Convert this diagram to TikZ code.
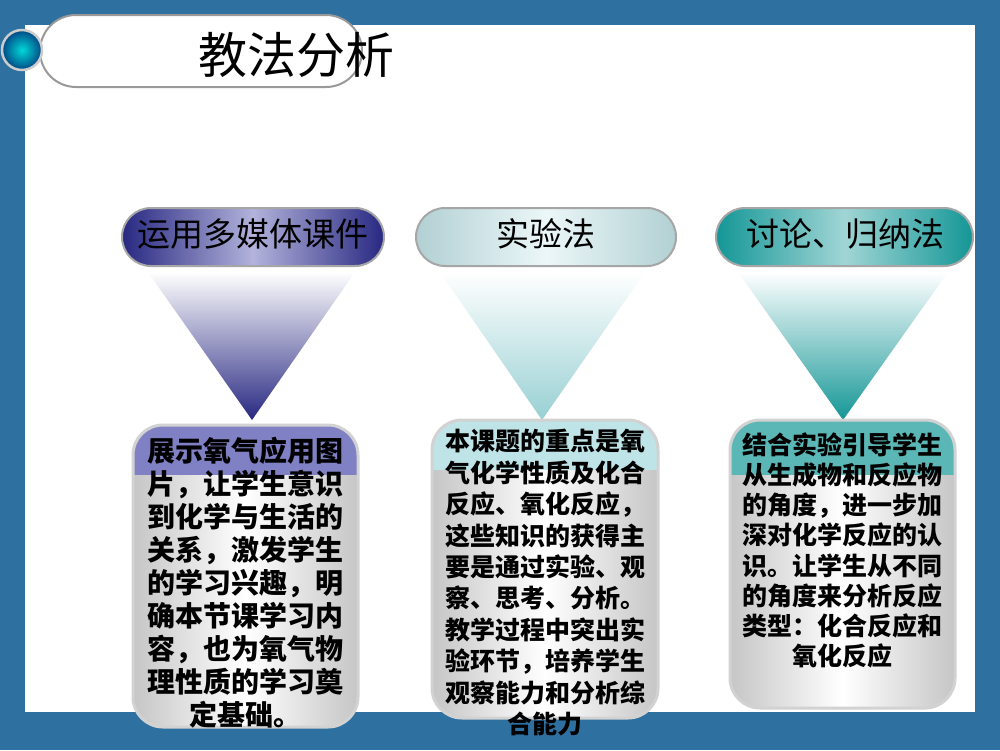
\documentclass[tikz,border=0pt]{standalone}
\usepackage{fontspec}
\newfontfamily\cjk{Noto Sans CJK SC}
\begin{document}
\begin{tikzpicture}[x=1pt,y=-1pt,
  hdr/.style={rounded corners=29pt,draw=gray!70,line width=2pt},
  cardtxt/.style={font=\cjk\bfseries\fontsize{28}{33}\selectfont,align=center,text=black},
  hdrtxt/.style={font=\cjk\fontsize{33}{36}\selectfont,text=black}]
\definecolor{bg}{RGB}{46,112,160}
\definecolor{navy}{RGB}{40,40,130}
\definecolor{lav}{RGB}{128,128,196}
\definecolor{cy}{RGB}{190,228,232}
\definecolor{tl}{RGB}{20,150,150}
\useasboundingbox (0,0) rectangle (1000,750);
\fill[bg] (0,0) rectangle (1000,750);
\fill[white] (25,25) rectangle (975,712);
% title
\draw[fill=white,draw=gray!80,line width=2pt,rounded corners=36pt] (40,15) rectangle (362,87);
\shade[inner color=cyan!70!teal,outer color=teal!70!blue!80!black,draw=gray!40,line width=2.5pt] (22,50) circle (20);
\node[font=\cjk\fontsize{49}{52}\selectfont] (title) at (296,55) {教法分析};
% headers
\shade[hdr,left color=navy,right color=navy,middle color=lav!60] (122,208) rectangle (384,266);
\node[hdrtxt] (h1) at (253,234) {运用多媒体课件};
\shade[hdr,left color=cy!80!gray,right color=cy!80!gray,middle color=cy!30] (416,208) rectangle (676,266);
\node[hdrtxt] (h2) at (546,234) {实验法};
\shade[hdr,left color=tl,right color=tl,middle color=tl!40] (716,208) rectangle (973,266);
\node[hdrtxt] (h3) at (845,234) {讨论、归纳法};
% triangles
\shade[top color=white,bottom color=navy] (148,272) -- (355,272) -- (252,420) -- cycle;
\shade[top color=white,bottom color=cy!80!teal] (440,272) -- (645,272) -- (542,420) -- cycle;
\shade[top color=white,bottom color=tl] (738,272) -- (948,272) -- (843,420) -- cycle;
% cards
\foreach \xa/\xb/\ya/\yb/\bc/\bb in {133/358/425/727/lav/475, 432/658/420/718/cy/470, 730/955/420/708/tl!70/475}{
  \begin{scope}
  \clip[rounded corners=30pt] (\xa,\ya) rectangle (\xb,\yb);
  \shade[left color=gray!45,right color=gray!45,middle color=white] (\xa,\ya) rectangle (\xb,\yb);
  \fill[\bc] (\xa,\ya) rectangle (\xb,\bb);
  \end{scope}
  \draw[gray!35,line width=3pt,rounded corners=30pt] (\xa,\ya) rectangle (\xb,\yb);
}
\node[cardtxt,anchor=north] (t1) at (245.5,434) {展示氧气应用图\\片，让学生意识\\到化学与生活的\\关系，激发学生\\的学习兴趣，明\\确本节课学习内\\容，也为氧气物\\理性质的学习奠\\定基础。};
\node[cardtxt,anchor=north,font=\cjk\bfseries\fontsize{25}{31.4}\selectfont] (t2) at (545,426) {本课题的重点是氧\\气化学性质及化合\\反应、氧化反应，\\这些知识的获得主\\要是通过实验、观\\察、思考、分析。\\教学过程中突出实\\验环节，培养学生\\观察能力和分析综\\合能力};
\node[cardtxt,anchor=north,font=\cjk\bfseries\fontsize{25}{30.2}\selectfont] (t3) at (842.5,429) {结合实验引导学生\\从生成物和反应物\\的角度，进一步加\\深对化学反应的认\\识。让学生从不同\\的角度来分析反应\\类型：化合反应和\\氧化反应};
\end{tikzpicture}
\end{document}
